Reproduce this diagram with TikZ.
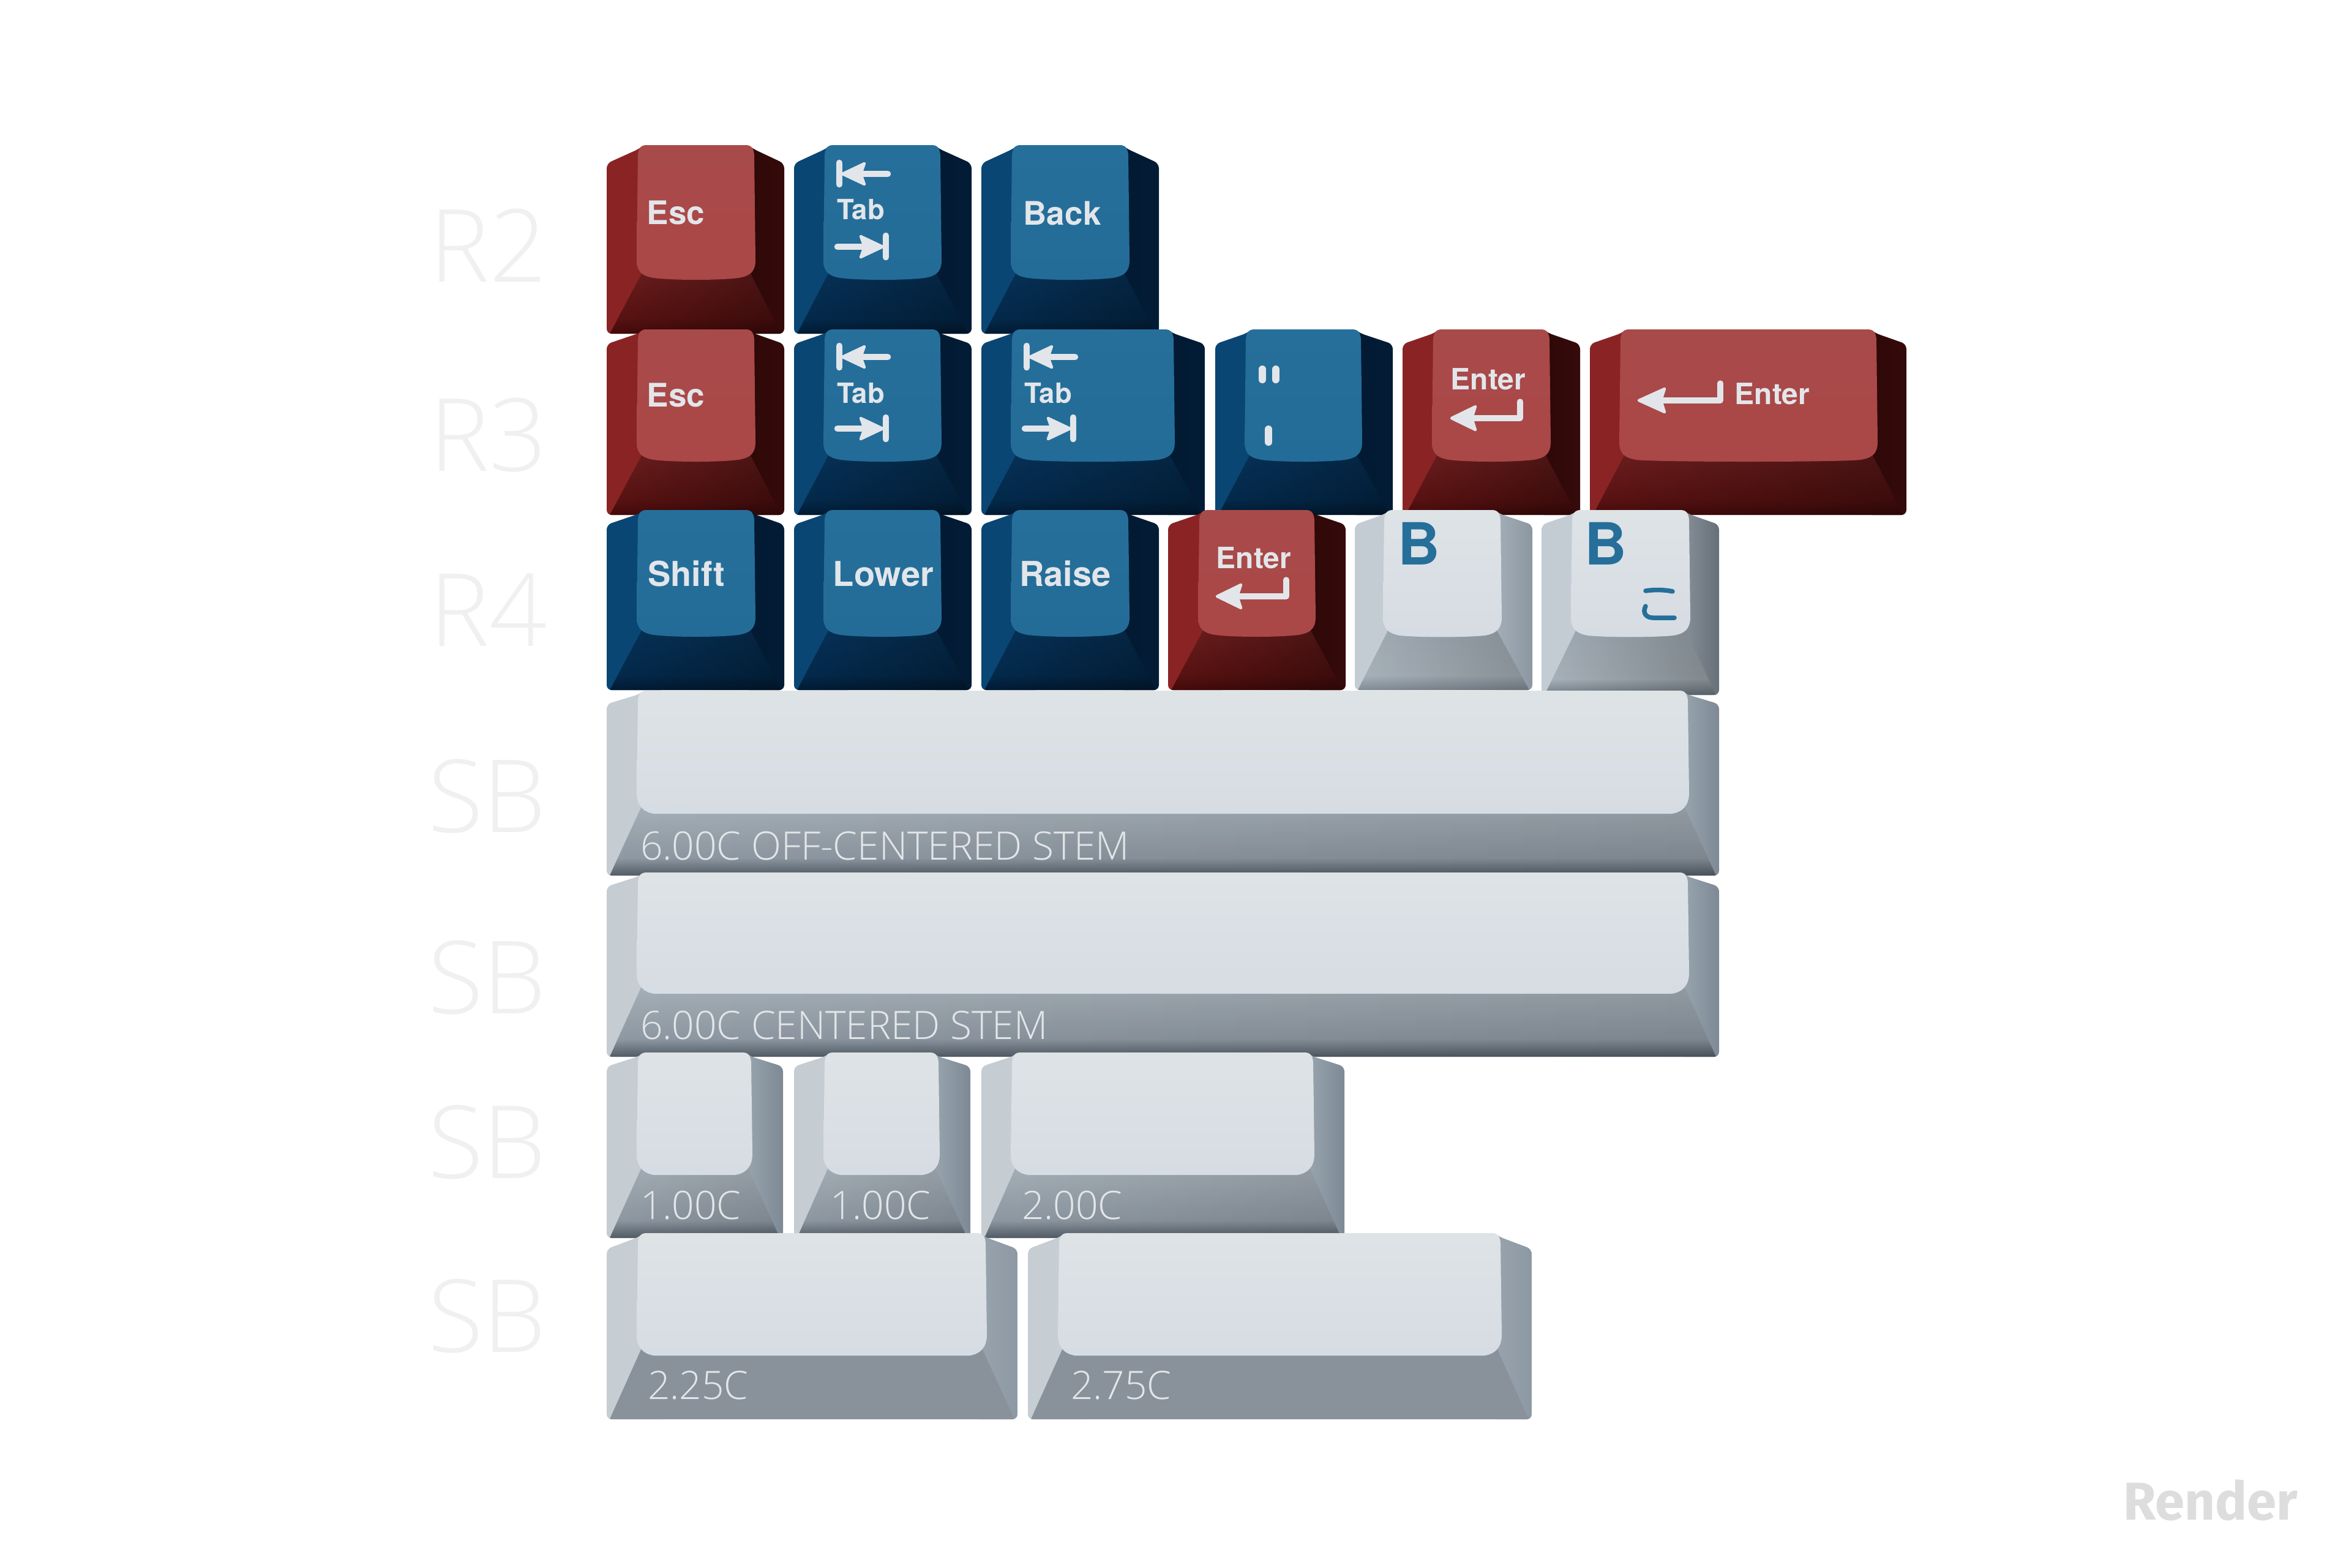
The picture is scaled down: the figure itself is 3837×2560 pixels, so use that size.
\documentclass[tikz,border=0pt]{standalone}
\usepackage{fontspec}
\usetikzlibrary{fadings}
\setmainfont{Open Sans Light}
\newfontfamily\legendfont{TeX Gyre Heros}
\newfontfamily\renderfont{Fira Sans}
\definecolor{redLeft}{HTML}{8A2424}\definecolor{redRight}{HTML}{360A0A}\definecolor{redRL}{HTML}{2E0808}
\definecolor{redFT}{HTML}{6E1E1E}\definecolor{redFM}{HTML}{5A1212}\definecolor{redFB}{HTML}{420A0A}
\definecolor{redTT}{HTML}{A94A4A}\definecolor{redTB}{HTML}{AA4747}
\definecolor{blueLeft}{HTML}{0A4674}\definecolor{blueRight}{HTML}{031C36}\definecolor{blueRL}{HTML}{021A32}
\definecolor{blueFT}{HTML}{07335A}\definecolor{blueFM}{HTML}{042A4C}\definecolor{blueFB}{HTML}{021A32}
\definecolor{blueTT}{HTML}{266F9B}\definecolor{blueTB}{HTML}{236C97}
\definecolor{liteLeft}{HTML}{C4CCD3}\definecolor{liteRight}{HTML}{8A96A1}\definecolor{liteRL}{HTML}{A3AEB8}
\definecolor{liteFT}{HTML}{A4AEB7}\definecolor{liteFM}{HTML}{A9B3BB}\definecolor{liteFB}{HTML}{7F8A95}
\definecolor{liteTT}{HTML}{DEE3E6}\definecolor{liteTB}{HTML}{D6DCE3}
\definecolor{litebLeft}{HTML}{C4CCD3}\definecolor{litebRight}{HTML}{666F78}\definecolor{litebRL}{HTML}{868F98}
\definecolor{litebFT}{HTML}{A4AEB7}\definecolor{litebFM}{HTML}{A9B3BB}\definecolor{litebFB}{HTML}{6F7A85}
\definecolor{litebTT}{HTML}{DEE3E6}\definecolor{litebTB}{HTML}{D6DCE3}
\definecolor{grayLeft}{HTML}{C5CCD2}\definecolor{grayRight}{HTML}{7C8893}\definecolor{grayRL}{HTML}{98A4AE}
\definecolor{grayFT}{HTML}{A6B0B8}\definecolor{grayFM}{HTML}{8E98A2}\definecolor{grayFB}{HTML}{4E5862}
\definecolor{grayTT}{HTML}{DEE3E6}\definecolor{grayTB}{HTML}{D6DCE3}
\definecolor{flatLeft}{HTML}{C6CDD3}\definecolor{flatRight}{HTML}{8C98A3}\definecolor{flatRL}{HTML}{98A3AD}
\definecolor{flatFT}{HTML}{89929A}\definecolor{flatFM}{HTML}{89929A}\definecolor{flatFB}{HTML}{89929A}
\definecolor{flatTT}{HTML}{DEE3E6}\definecolor{flatTB}{HTML}{D6DCE3}
\definecolor{legend}{HTML}{E2E6EA}
\definecolor{capblue}{HTML}{256F9A}
\definecolor{sizetext}{HTML}{E2E6E9}
\definecolor{rowtext}{HTML}{F0F0F1}
\def\redBulge{5}\def\blueBulge{5}\def\liteBulge{4}\def\litebBulge{4}\def\grayBulge{0}\def\flatBulge{0}
\def\redDark{.35}\def\blueDark{.3}\def\liteDark{.2}\def\litebDark{.25}\def\grayDark{.12}\def\flatDark{0}
\newcommand\keycap[9]{%
  \colorlet{kLeft}{#9Left}\colorlet{kRight}{#9Right}\colorlet{kRL}{#9RL}%
  \colorlet{kFT}{#9FT}\colorlet{kFM}{#9FM}\colorlet{kFB}{#9FB}%
  \colorlet{kTT}{#9TT}\colorlet{kTB}{#9TB}%
  \pgfmathsetmacro\kmid{#5+0.72*(#6-#5)}%
  \pgfmathsetmacro\kb{\csname #9Bulge\endcsname}%
  \begin{scope}
    \clip[rounded corners=1.6pt] (#1,#4) -- (#7+4,#3+6) -- (#7+12,#3) -- (#8-12,#3) -- (#8-4,#3+6) -- (#2,#4) -- (#2,#6) -- (#1,#6) -- cycle;
    \fill[kLeft] (#1-2,#3-2) rectangle (#7+40,#6+2);
    \shade[left color=kRL, right color=kRight] (#8-10,#3-2) rectangle (#2+2,#6+2);
    \begin{scope}
      \clip (#7+8,#5-12) -- (#8-8,#5-12) -- (#2-4,#6+2) -- (#1+4,#6+2) -- cycle;
      \shade[top color=kFT, bottom color=kFM] (#1,#5-12) rectangle (#2,\kmid+1);
      \shade[top color=kFM, bottom color=kFB] (#1,\kmid) rectangle (#2,#6+2);
      \fill[black, opacity=\csname #9Dark\endcsname, path fading=west] (#1,#5-12) rectangle (#2,#6+2);
    \end{scope}
  \end{scope}
  \shade[top color=kTT, bottom color=kTB]
    (#7+16,#3) -- (#8-16,#3) .. controls (#8-6,#3) and (#8-3,#3+6) .. (#8-2,#3+16)
    -- (#8,#5-34) .. controls (#8,#5-14) and (#8-10,#5-\kb-3) .. (#8-28,#5-\kb)
    .. controls (#8-60,#5-\kb*0.2) and (#7+60,#5-\kb*0.2) .. (#7+28,#5-\kb)
    .. controls (#7+10,#5-\kb-3) and (#7,#5-14) .. (#7,#5-34)
    -- (#7+2,#3+16) .. controls (#7+3,#3+6) and (#7+6,#3) .. (#7+16,#3) -- cycle;
}
\tikzset{glyph/.style={draw=legend, line width=2.1pt, line cap=round, line join=round},
  head/.style={fill=legend, draw=legend, line width=0.9pt, line join=round},
  esctext/.style={font=\legendfont\bfseries\fontsize{10.6}{10.6}\selectfont, text=legend, inner sep=0pt, anchor=base},
  legendtext/.style={font=\legendfont\bfseries\fontsize{11.2}{11.2}\selectfont, text=legend, inner sep=0pt, anchor=base},
  tabtext/.style={font=\legendfont\bfseries\fontsize{9.1}{9.1}\selectfont, text=legend, inner sep=0pt, anchor=base},
  entertext/.style={font=\legendfont\bfseries\fontsize{9.6}{9.6}\selectfont, text=legend, inner sep=0pt, anchor=base},
  bigb/.style={font=\legendfont\bfseries\fontsize{19}{19}\selectfont, text=capblue, inner sep=0pt, anchor=base},
  sizelabel/.style={font=\fontsize{12.8}{12.8}\selectfont, text=sizetext, inner sep=0pt, anchor=base west},
  rowlabel/.style={font=\fontsize{33}{33}\selectfont, text=rowtext, inner sep=0pt, anchor=base west}}
\newcommand\tabglyph[3]{% x of left edge, y upper, y lower
  \draw[glyph] (#1+5,#2-18) -- (#1+5,#2+17);
  \draw[glyph] (#1+30,#2) -- (#1+84,#2);
  \fill[head] (#1+10,#2) -- (#1+46,#2-17) -- (#1+40,#2) -- (#1+46,#2+17) -- cycle;
  \draw[glyph] (#1+81,#3-18) -- (#1+81,#3+17);
  \draw[glyph] (#1+2,#3) -- (#1+50,#3);
  \fill[head] (#1+76,#3) -- (#1+40,#3-17) -- (#1+46,#3) -- (#1+40,#3+17) -- cycle;
}
\newcommand\enterglyph[5]{% tip x, base x, y, right x, top y
  \draw[glyph, line width=1.9pt] (#4,#5) -- (#4,#3) -- (#2-3,#3);
  \fill[head] (#1+3,#3) -- (#2,#3-19) -- (#2-6,#3) -- (#2,#3+19) -- cycle;
}
\begin{document}
\begin{tikzpicture}[x=0.2pt,y=-0.2pt]
\useasboundingbox (0,0) rectangle (3837,2560);
\fill[white] (0,0) rectangle (3837,2560);
% row R2
\keycap{991}{1281}{237}{267}{459}{545}{1040}{1234}{red}
\keycap{1297}{1587}{237}{267}{459}{545}{1345}{1538}{blue}
\keycap{1603}{1893}{237}{267}{459}{545}{1651}{1845}{blue}
% row R3
\keycap{991}{1281}{538}{562}{756}{841}{1040}{1234}{red}
\keycap{1297}{1587}{538}{562}{756}{841}{1345}{1538}{blue}
\keycap{1603}{1968}{538}{562}{756}{841}{1651}{1919}{blue}
\keycap{1985}{2275}{538}{562}{756}{841}{2033}{2225}{blue}
\keycap{2291}{2581}{538}{562}{756}{841}{2339}{2533}{red}
\keycap{2597}{3114}{538}{562}{756}{841}{2645}{3067}{red}
% row R4
\keycap{991}{1281}{833}{857}{1042}{1127}{1040}{1234}{blue}
\keycap{1297}{1587}{833}{857}{1042}{1127}{1345}{1538}{blue}
\keycap{1603}{1893}{833}{857}{1042}{1127}{1651}{1845}{blue}
\keycap{1908}{2198}{833}{857}{1042}{1127}{1957}{2149}{red}
\keycap{2213}{2503}{833}{857}{1042}{1127}{2259}{2453}{lite}
\keycap{2518}{2808}{833}{857}{1042}{1135}{2566}{2761}{liteb}
% spacebars and blanks
\keycap{991}{2808}{1128}{1150}{1329}{1430}{1040}{2759}{gray}
\keycap{991}{2808}{1425}{1448}{1623}{1726}{1040}{2759}{gray}
\keycap{991}{1279}{1719}{1742}{1919}{2022}{1040}{1229}{gray}
\keycap{1297}{1585}{1719}{1742}{1919}{2022}{1345}{1535}{gray}
\keycap{1603}{2196}{1719}{1742}{1919}{2022}{1651}{2147}{gray}
\keycap{991}{1662}{2014}{2040}{2214}{2318}{1040}{1612}{flat}
\keycap{1679}{2502}{2014}{2040}{2214}{2318}{1728}{2453}{flat}
% legends R2
\node[esctext] (escA) at (1104,366) {Esc};
\node[tabtext] (tabA) at (1406,358) {Tab};
\tabglyph{1366}{284}{403}
\node[esctext] (back) at (1735,367) {Back};
% legends R3
\node[esctext] (escB) at (1104,664) {Esc};
\node[tabtext] (tabB) at (1406,658) {Tab};
\tabglyph{1366}{583}{700}
\node[tabtext] (tabC) at (1712,658) {Tab};
\tabglyph{1672}{583}{700}
\draw[glyph, line width=2.4pt] (2062,603) -- (2062,620);
\draw[glyph, line width=2.4pt] (2084,603) -- (2084,620);
\draw[glyph, line width=2.4pt] (2072,701) -- (2072,722);
\node[entertext] (enterA) at (2431,636) {Enter};
\enterglyph{2368}{2410}{683}{2483}{656}
\node[entertext] (enterB) at (2895,660) {Enter};
\enterglyph{2674}{2719}{654}{2810}{626}
% legends R4
\node[legendtext] (shift) at (1121,957) {Shift};
\node[legendtext] (lower) at (1443,957) {Lower};
\node[legendtext] (raise) at (1740,957) {Raise};
\node[entertext] (enterC) at (2048,928) {Enter};
\enterglyph{1985}{2027}{974}{2101}{947}
\node[bigb] (bA) at (2318,922) {B};
\node[bigb] (bB) at (2623,922) {B};
\draw[capblue, line width=1.5pt, line cap=round] (2688,965) .. controls (2700,963) and (2720,963) .. (2732,966);
\draw[capblue, line width=1.5pt, line cap=round] (2688,990) .. controls (2682,1002) and (2690,1009) .. (2700,1009) -- (2735,1009);
% size labels
\node[sizelabel] (s1) at (1045,1404) {6.00C OFF-CENTERED STEM};
\node[sizelabel] (s2) at (1045,1697) {6.00C CENTERED STEM};
\node[sizelabel] (s3) at (1045,1991) {1.00C};
\node[sizelabel] (s4) at (1355,1991) {1.00C};
\node[sizelabel] (s5) at (1668,1991) {2.00C};
\node[sizelabel] (s6) at (1057,2285) {2.25C};
\node[sizelabel] (s7) at (1748,2285) {2.75C};
% row labels
\node[rowlabel] (r2) at (700,460) {R2};
\node[rowlabel] (r3) at (700,769) {R3};
\node[rowlabel] (r4) at (700,1055) {R4};
\node[rowlabel] (sa) at (698,1359) {SB};
\node[rowlabel] (sb) at (698,1655) {SB};
\node[rowlabel] (sc) at (698,1924) {SB};
\node[rowlabel] (sd) at (698,2208) {SB};
\node[inner sep=0pt, anchor=base west, text=rowtext!92!black, font=\renderfont\bfseries\fontsize{17.4}{17.4}\selectfont] (render) at (3467,2482) {Render};
\end{tikzpicture}
\end{document}
